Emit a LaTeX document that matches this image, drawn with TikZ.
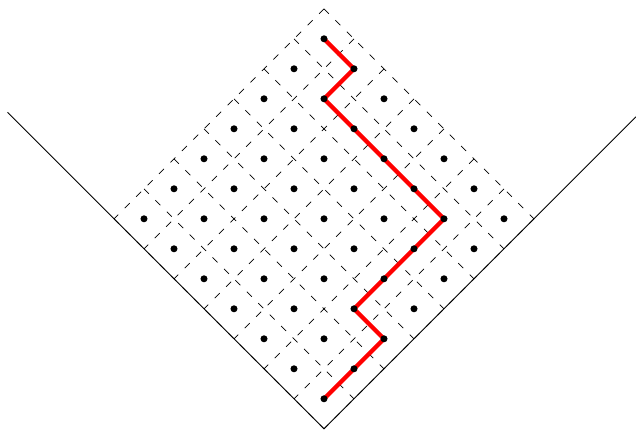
\documentclass[tikz,border=0pt]{standalone}
\usepackage{tikz}
\usetikzlibrary{backgrounds}

\begin{document}
\begin{tikzpicture}[
        dot/.style={circle, fill=black, inner sep=0pt, minimum size=5pt},
        gridline/.style={line width=0.5pt, dash pattern=on 5pt off 6.5pt},
        wedge/.style={line width=0.6pt},
        walk/.style={red, line width=3pt}
      ]
      \useasboundingbox (0,0) rectangle (15.9,10.75);
      \begin{scope}[shift={(8.1,9.78)}, x={(0.75cm,-0.75cm)}, y={(-0.75cm,-0.75cm)}]
        % lattice points
        \foreach \i in {0,...,6}
          \foreach \j in {0,...,6}
            \node[dot] (d\i\j) at (\i,\j) {};
        \begin{scope}[on background layer]
          % dashed cells
          \foreach \k in {-0.5,0.5,...,6.5} {
            \draw[gridline] (\k,-0.5) -- (\k,6.5);
            \draw[gridline] (-0.5,\k) -- (6.5,\k);
          }
          % the wedge
          \coordinate (wl) at (-4.05,6.5);
          \coordinate (wb) at (6.5,6.5);
          \coordinate (wr) at (6.5,-3.9);
          \draw[wedge] (wl) -- (wb) -- (wr);
          % the path
          \draw[walk] (d00.center) -- (d10.center) -- (d11.center) -- (d21.center)
            -- (d31.center) -- (d41.center) -- (d51.center) -- (d52.center)
            -- (d53.center) -- (d54.center) -- (d64.center) -- (d65.center)
            -- (d66.center);
        \end{scope}
      \end{scope}
    \end{tikzpicture}
\end{document}
